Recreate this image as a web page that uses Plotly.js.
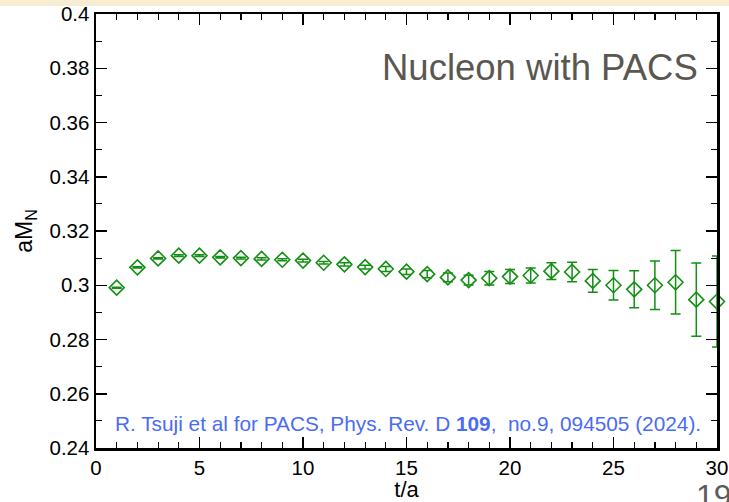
<!DOCTYPE html>
<html>
<head>
<meta charset="utf-8">
<script src="https://cdn.plot.ly/plotly-3.0.1.min.js"></script>
<style>
html,body{margin:0;padding:0;background:#fff;}
#chart{width:729px;height:502px;}
</style>
</head>
<body>
<div id="chart"></div>
<script>
const tValues = [1,2,3,4,5,6,7,8,9,10,11,12,13,14,15,16,17,18,19,20,21,22,23,24,25,26,27,28,29,30];
const massValues = [0.2991,0.3066,0.3099,0.3109,0.3109,0.3103,0.3100,0.3097,0.3094,0.3091,0.3083,0.3077,0.3067,0.3060,0.3050,0.3041,0.3029,0.3019,0.3026,0.3032,0.3036,0.3052,0.3049,0.3016,0.3000,0.2985,0.3000,0.3011,0.2947,0.2940];
const massErrors = [0.0002,0.0002,0.0002,0.0003,0.0003,0.0003,0.0003,0.0004,0.0004,0.0005,0.0005,0.0006,0.0007,0.0009,0.0010,0.0013,0.0016,0.0018,0.0025,0.0026,0.0028,0.0031,0.0036,0.0042,0.0054,0.0068,0.0089,0.0117,0.0135,0.0168];
const yTickValues = [0.24,0.26,0.28,0.3,0.32,0.34,0.36,0.38,0.4];
const yTickLabels = ["0.24","0.26","0.28","0.3","0.32","0.34","0.36","0.38","0.4"];
const xTickValues = [0,5,10,15,20,25,30];
const xTickLabels = ["0","5","10","15","20","25","30"];

const green = '#138f13';
const trace = {
  x: tValues, y: massValues, type: 'scatter', mode: 'markers',
  cliponaxis: false,
  marker: {symbol: 'diamond-open', size: 11.5, color: green, line: {color: green, width: 1.6}},
  error_y: {type: 'data', array: massErrors, visible: true, color: green, thickness: 1.5, width: 5},
  showlegend: false, hoverinfo: 'x+y'
};

const font = 'Liberation Sans, Arial, Helvetica, sans-serif';
const layout = {
  width: 729, height: 502,
  margin: {l: 96, r: 12, t: 14, b: 54},
  paper_bgcolor: '#ffffff', plot_bgcolor: '#ffffff',
  font: {family: font, color: '#000'},
  xaxis: {
    range: [0, 30], tickvals: xTickValues, ticktext: xTickLabels,
    ticks: 'inside', ticklen: 11, tickwidth: 1.5, tickcolor: '#000',
    minor: {dtick: 1, ticks: 'inside', ticklen: 6, tickwidth: 1.2, tickcolor: '#000', showgrid: false},
    showline: true, linewidth: 2.5, linecolor: '#000', mirror: 'ticks',
    showgrid: false, zeroline: false,
    tickfont: {size: 20.5, family: font, color: '#000'},
    title: {text: 't/a', font: {size: 22, family: font, color: '#000'}, standoff: 3}
  },
  yaxis: {
    range: [0.24, 0.4], tickvals: yTickValues, ticktext: yTickLabels,
    ticks: 'inside', ticklen: 11, tickwidth: 1.5, tickcolor: '#000',
    minor: {dtick: 0.01, ticks: 'inside', ticklen: 6, tickwidth: 1.2, tickcolor: '#000', showgrid: false},
    showline: true, linewidth: 2.5, linecolor: '#000', mirror: 'ticks',
    showgrid: false, zeroline: false,
    tickfont: {size: 20.5, family: font, color: '#000'},
    title: {text: 'aM<sub>N</sub>', font: {size: 23, family: font, color: '#000'}, standoff: 11}
  },
  shapes: [{
    type: 'rect', xref: 'paper', yref: 'paper', layer: 'below',
    x0: -0.16, x1: 1.03, y0: 1.0184, y1: 1.04,
    fillcolor: '#f6edd3', line: {width: 0}
  }],
  annotations: [
    {xref: 'paper', yref: 'paper', x: 0.9726, y: 0.8756, xanchor: 'right', yanchor: 'middle',
     text: 'Nucleon with PACS', showarrow: false, font: {size: 36.5, family: font, color: '#5a5751'}},
    {xref: 'paper', yref: 'paper', x: 0.9775, y: 0.0576, xanchor: 'right', yanchor: 'middle',
     text: 'R. Tsuji et al for PACS, Phys. Rev. D <b>109</b>,  no.9, 094505 (2024).', showarrow: false,
     font: {size: 20.8, family: font, color: '#4a6cf5'}},
    {xref: 'paper', yref: 'paper', x: 0.995, y: -0.11, xanchor: 'center', yanchor: 'middle',
     text: '19', showarrow: false, font: {size: 32, family: font, color: '#5c5c5c'}}
  ]
};

Plotly.newPlot('chart', [trace], layout, {displayModeBar: false, staticPlot: true});
</script>
</body>
</html>
